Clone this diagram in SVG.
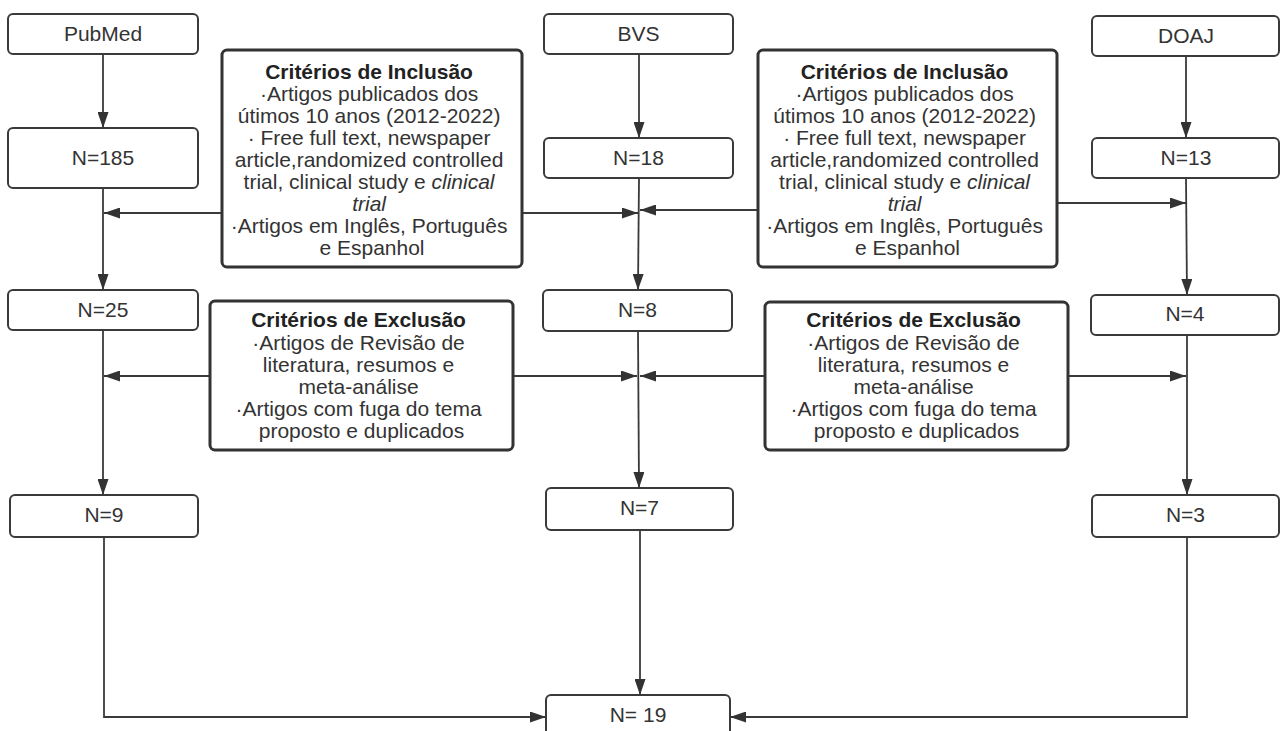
<svg xmlns="http://www.w3.org/2000/svg" width="1281" height="731" viewBox="0 0 1281 731">
<style>
  .box { fill: #ffffff; stroke: #3a3a3a; stroke-width: 2; }
  .crit { fill: #ffffff; stroke: #333333; stroke-width: 3; }
  .lbl { font-family: "Liberation Sans", Arial, sans-serif; font-size: 21px; fill: #333333; text-anchor: middle; }
  .ttl { font-weight: bold; fill: #222222; }
  .conn { fill: none; stroke: #3a3a3a; stroke-width: 1.8; }
</style>
<defs>
  <marker id="arr" markerUnits="userSpaceOnUse" markerWidth="16" markerHeight="11" refX="16" refY="5.5" orient="auto">
    <path d="M0,0 L16,5.5 L0,11 Z" fill="#333333"/>
  </marker>
</defs>
<rect width="1281" height="731" fill="#ffffff"/>

<g id="connectors">
  <path class="conn" d="M103,54 V128" marker-end="url(#arr)"/>
  <path class="conn" d="M639,54 V138" marker-end="url(#arr)"/>
  <path class="conn" d="M1186,56 V138" marker-end="url(#arr)"/>
  <path class="conn" d="M103,188 V290" marker-end="url(#arr)"/>
  <path class="conn" d="M639,178 L638,290" marker-end="url(#arr)"/>
  <path class="conn" d="M1186,178 L1187,295" marker-end="url(#arr)"/>
  <path class="conn" d="M222,213 H104" marker-end="url(#arr)"/>
  <path class="conn" d="M522,213 H638" marker-end="url(#arr)"/>
  <path class="conn" d="M758,210 H640" marker-end="url(#arr)"/>
  <path class="conn" d="M1057,203 H1186" marker-end="url(#arr)"/>
  <path class="conn" d="M103,330 V495" marker-end="url(#arr)"/>
  <path class="conn" d="M638,331 L639,488" marker-end="url(#arr)"/>
  <path class="conn" d="M1187,335 V495" marker-end="url(#arr)"/>
  <path class="conn" d="M210,376 H104" marker-end="url(#arr)"/>
  <path class="conn" d="M513,376 H637" marker-end="url(#arr)"/>
  <path class="conn" d="M765,376 H640" marker-end="url(#arr)"/>
  <path class="conn" d="M1068,376 H1186" marker-end="url(#arr)"/>
  <path class="conn" d="M104,537 V717 H546" marker-end="url(#arr)"/>
  <path class="conn" d="M640,530 V695" marker-end="url(#arr)"/>
  <path class="conn" d="M1187,537 V717 H730" marker-end="url(#arr)"/>
</g>

<g id="pubmed"><rect class="box" x="8" y="14" width="190" height="40" rx="5"/><text class="lbl" x="103" y="41">PubMed</text></g>
<g id="bvs"><rect class="box" x="544" y="14" width="189" height="40" rx="5"/><text class="lbl" x="638.5" y="41">BVS</text></g>
<g id="doaj"><rect class="box" x="1092" y="16" width="187" height="40" rx="5"/><text class="lbl" x="1186" y="43">DOAJ</text></g>

<g id="n185"><rect class="box" x="8" y="128" width="190" height="60" rx="5"/><text class="lbl" x="103" y="165">N=185</text></g>
<g id="n18"><rect class="box" x="544" y="138" width="189" height="40" rx="5"/><text class="lbl" x="638.5" y="165">N=18</text></g>
<g id="n13"><rect class="box" x="1092" y="138" width="187" height="40" rx="5"/><text class="lbl" x="1186" y="165">N=13</text></g>

<g id="n25"><rect class="box" x="8" y="290" width="190" height="40" rx="5"/><text class="lbl" x="103" y="317">N=25</text></g>
<g id="n8"><rect class="box" x="543" y="290" width="189" height="41" rx="5"/><text class="lbl" x="637.5" y="317">N=8</text></g>
<g id="n4"><rect class="box" x="1091" y="295" width="188" height="40" rx="5"/><text class="lbl" x="1185" y="321">N=4</text></g>

<g id="n9"><rect class="box" x="10" y="495" width="188" height="42" rx="5"/><text class="lbl" x="104" y="522">N=9</text></g>
<g id="n7"><rect class="box" x="546" y="488" width="187" height="42" rx="5"/><text class="lbl" x="639.5" y="515">N=7</text></g>
<g id="n3"><rect class="box" x="1092" y="495" width="187" height="42" rx="5"/><text class="lbl" x="1185.5" y="522">N=3</text></g>

<g id="n19"><rect class="box" x="546" y="695" width="184" height="50" rx="5"/><text class="lbl" x="638" y="722">N= 19</text></g>

<g id="inclusao-left">
  <rect class="crit" x="222" y="50" width="300" height="217" rx="5"/>
  <text class="lbl" x="372">
    <tspan class="ttl" x="372" y="79">Critérios de Inclusão</tspan>
    <tspan x="372" y="101">·Artigos publicados dos</tspan>
    <tspan x="372" y="123">útimos 10 anos (2012-2022)</tspan>
    <tspan x="372" y="145">· Free full text, newspaper</tspan>
    <tspan x="372" y="167">article,randomized controlled</tspan>
    <tspan x="372" y="189">trial, clinical study e <tspan font-style="italic">clinical</tspan></tspan>
    <tspan x="372" y="211" font-style="italic">trial</tspan>
    <tspan x="372" y="233">·Artigos em Inglês, Português</tspan>
    <tspan x="372" y="255">e Espanhol</tspan>
  </text>
</g>

<g id="inclusao-right">
  <rect class="crit" x="758" y="50" width="299" height="217" rx="5"/>
  <text class="lbl" x="907.5">
    <tspan class="ttl" x="907.5" y="79">Critérios de Inclusão</tspan>
    <tspan x="907.5" y="101">·Artigos publicados dos</tspan>
    <tspan x="907.5" y="123">útimos 10 anos (2012-2022)</tspan>
    <tspan x="907.5" y="145">· Free full text, newspaper</tspan>
    <tspan x="907.5" y="167">article,randomized controlled</tspan>
    <tspan x="907.5" y="189">trial, clinical study e <tspan font-style="italic">clinical</tspan></tspan>
    <tspan x="907.5" y="211" font-style="italic">trial</tspan>
    <tspan x="907.5" y="233">·Artigos em Inglês, Português</tspan>
    <tspan x="907.5" y="255">e Espanhol</tspan>
  </text>
</g>

<g id="exclusao-left">
  <rect class="crit" x="210" y="301" width="303" height="149" rx="5"/>
  <text class="lbl" x="361.5">
    <tspan class="ttl" x="361.5" y="327">Critérios de Exclusão</tspan>
    <tspan x="361.5" y="349.5">·Artigos de Revisão de</tspan>
    <tspan x="361.5" y="371.5">literatura, resumos e</tspan>
    <tspan x="361.5" y="394">meta-análise</tspan>
    <tspan x="361.5" y="416">·Artigos com fuga do tema</tspan>
    <tspan x="361.5" y="438">proposto e duplicados</tspan>
  </text>
</g>

<g id="exclusao-right">
  <rect class="crit" x="765" y="302" width="303" height="148" rx="5"/>
  <text class="lbl" x="916.5">
    <tspan class="ttl" x="916.5" y="327">Critérios de Exclusão</tspan>
    <tspan x="916.5" y="349.5">·Artigos de Revisão de</tspan>
    <tspan x="916.5" y="371.5">literatura, resumos e</tspan>
    <tspan x="916.5" y="394">meta-análise</tspan>
    <tspan x="916.5" y="416">·Artigos com fuga do tema</tspan>
    <tspan x="916.5" y="438">proposto e duplicados</tspan>
  </text>
</g>
</svg>
